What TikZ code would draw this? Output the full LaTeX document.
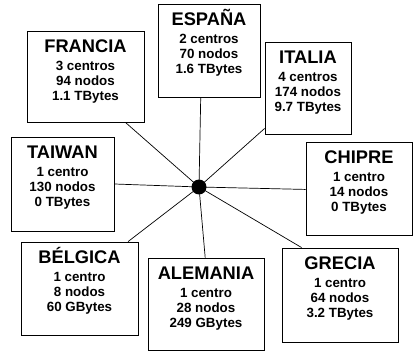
\documentclass[tikz,border=0pt]{standalone}
\usepackage{fontspec}
\setmainfont{Liberation Sans}
\usepackage{tikz}
\usetikzlibrary{positioning}

% ficha: width, height, country, centros, nodos, storage
\newcommand{\ficha}[6]{\parbox[c][#2][t]{#1}{\centering\bfseries
  \fontsize{13}{13}\selectfont\rule{0pt}{0.55cm}#3\par
  \fontsize{9.5}{10.6}\selectfont\rule{0pt}{11.4pt}#4\\#5\\#6}}

\tikzset{
  pais/.style={draw, line width=0.6pt, inner sep=0pt},
  enlace/.style={line width=0.5pt},
}

\begin{document}
\begin{tikzpicture}
  \useasboundingbox (0,0) rectangle (10.325,8.8);

  \node (hub)      [circle, fill, minimum size=0.375cm, inner sep=0pt] at (4.975,4.125) {};

  \node (francia)  [pais] at (2.1375,6.8875) {\ficha{2.925cm}{2.275cm}{FRANCIA}{3 centros}{94 nodos}{1.1 TBytes}};
  \node (espana)   [pais] at (5.225,7.5375)  {\ficha{2.55cm}{2.325cm}{ESPAÑA}{2 centros}{70 nodos}{1.6 TBytes}};
  \node (italia)   [pais] at (7.7,6.6)       {\ficha{2.15cm}{2.3cm}{ITALIA}{4 centros}{174 nodos}{9.7 TBytes}};
  \node (chipre)   [pais] at (8.975,4.0875)  {\ficha{2.65cm}{2.325cm}{CHIPRE}{1 centro}{14 nodos}{0 TBytes}};
  \node (taiwan)   [pais] at (1.5625,4.2)    {\ficha{2.575cm}{2.35cm}{TAIWAN}{1 centro}{130 nodos}{0 TBytes}};
  \node (belgica)  [pais] at (1.9875,1.5875) {\ficha{2.925cm}{2.325cm}{BÉLGICA}{1 centro}{8 nodos}{60 GBytes}};
  \node (alemania) [pais] at (5.15,1.2)      {\ficha{2.9cm}{2.3cm}{ALEMANIA}{1 centro}{28 nodos}{249 GBytes}};
  \node (grecia)   [pais] at (8.5,1.425)     {\ficha{2.9cm}{2.35cm}{GRECIA}{1 centro}{64 nodos}{3.2 TBytes}};

  \foreach \p/\a in {francia/-49, espana/-100, italia/-137, chipre/181, taiwan/0, belgica/44, alemania/91, grecia/129}
    \draw[enlace] (hub.center) -- (\p.\a);
\end{tikzpicture}
\end{document}
